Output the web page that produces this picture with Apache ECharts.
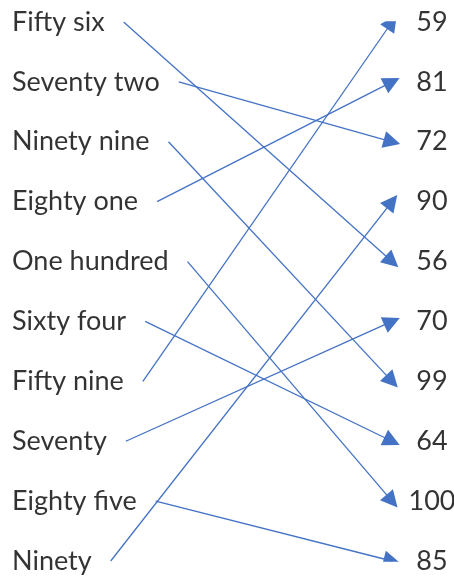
<!DOCTYPE html>
<html>
<head>
<meta charset="utf-8">
<script src="https://cdn.jsdelivr.net/npm/echarts@6/dist/echarts.min.js"></script>
<style>
html,body{margin:0;padding:0;background:#fff;}
#chart{width:454px;height:580px;}
</style>
</head>
<body>
<div id="chart"></div>
<script>
// Data
const leftLabels = ["Fifty six","Seventy two","Ninety nine","Eighty one","One hundred","Sixty four","Fifty nine","Seventy","Eighty five","Ninety"];
const leftValues = [56,72,99,81,100,64,59,70,85,90];
const rightValues = [59,81,72,90,56,70,99,64,100,85];

// Layout / style
const W = 454;
const FONT_FAMILY = 'Lato';
const FONT_SIZE = 27;
const LEFT_X = 12;
const RIGHT_X = 432;
const ARROW_X = 392;
const GAP = 19;
const COLOR = '#4472C4';

const ctx = document.createElement('canvas').getContext('2d');
ctx.font = FONT_SIZE + 'px ' + FONT_FAMILY;

const leftPts = leftLabels.map((t, i) => [LEFT_X, i, t]);
const rightPts = rightValues.map((v, i) => [RIGHT_X, i, String(v)]);
const links = leftValues.map((v, i) => {
  const j = rightValues.indexOf(v);
  const startX = LEFT_X + ctx.measureText(leftLabels[i]).width + GAP;
  return { coords: [[startX, i], [ARROW_X, j]] };
});

const chart = echarts.init(document.getElementById('chart'));
const labelStyle = { fontFamily: FONT_FAMILY, fontSize: FONT_SIZE, color: '#000' };
chart.setOption({
  animation: false,
  grid: { left: 0, right: 0, top: 22, bottom: 19 },
  xAxis: { type: 'value', min: 0, max: W, show: false },
  yAxis: { type: 'value', min: 0, max: 9, inverse: true, show: false },
  series: [
    {
      type: 'lines', coordinateSystem: 'cartesian2d',
      data: links,
      symbol: ['none', 'triangle'], symbolSize: 17,
      lineStyle: { color: COLOR, width: 1.3, opacity: 1 }
    },
    {
      type: 'scatter', symbolSize: 0, data: leftPts,
      label: { show: true, position: 'right', distance: 0, formatter: p => p.data[2], ...labelStyle }
    },
    {
      type: 'scatter', symbolSize: 0, data: rightPts,
      label: { show: true, position: 'inside', formatter: p => p.data[2], ...labelStyle }
    }
  ]
});
</script>
</body>
</html>
